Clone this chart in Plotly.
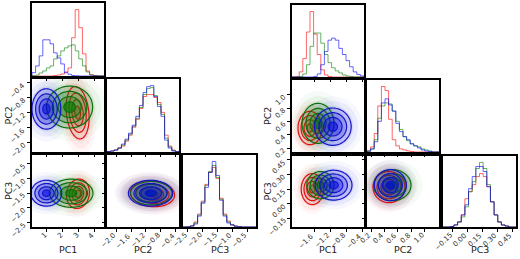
import numpy as np
import plotly.graph_objects as go

# ---------------- data ----------------
series = ["red", "green", "blue"]
param_names = ["PC1", "PC2", "PC3"]

# left corner plot
left_ranges = [[0.1, 4.6], [-2.25, -0.3], [-2.65, -0.2]]
left_ticks = [[1, 2, 3, 4], [-2.0, -1.6, -1.2, -0.8, -0.4], [-2.5, -2.0, -1.5, -1.0, -0.5]]
left_ticktext = [["1", "2", "3", "4"],
                 ["−2.0", "−1.6", "−1.2", "−0.8", "−0.4"],
                 ["−2.5", "−2.0", "−1.5", "−1.0", "−0.5"]]

left_pc1_hist_red = [0, 0, 0, 0, 0, 0, 0.5, 1, 2, 4, 8, 38, 66, 48, 22, 5, 1.5, 0.5, 0, 0]
left_pc1_hist_green = [0.3, 1, 3, 5, 8, 10, 17, 20, 25, 28, 30, 31, 25, 17, 10, 4, 1, 0.3, 0, 0]
left_pc1_hist_blue = [3.3, 10, 20, 36, 36, 32, 23, 18, 12, 3.3, 1.7, 0.5, 0.3, 0, 0, 0, 0, 0, 0, 0]

left_pc2_hist_red = [0.4, 1, 2, 4, 6, 11, 17, 25, 33, 44, 56, 58, 58, 55, 50, 40, 17, 6, 2, 0.5]
left_pc2_hist_green = [0.5, 1, 2, 4, 7, 12, 18, 26, 34, 45, 58, 64, 65, 57, 48, 38, 14, 5, 1.5, 0.3]
left_pc2_hist_blue = [0.5, 1, 2, 4, 8, 13, 19, 27, 36, 47, 60, 66, 67, 56, 46, 36, 12, 4, 1, 0.3]

left_pc3_hist_red = [0, 0.2, 1.2, 5, 13, 26, 43, 55, 60, 49, 29, 13, 6, 2.5, 1, 0.3, 0, 0, 0, 0]
left_pc3_hist_green = [0, 0.2, 1, 4, 12, 25, 42, 56, 62, 50, 28, 12, 5, 2, 0.8, 0.3, 0, 0, 0, 0]
left_pc3_hist_blue = [0, 0.2, 1, 3, 11, 24, 40, 55, 66, 52, 27, 11, 4, 2, 0.8, 0.3, 0, 0, 0, 0]

# 2-D density summaries: [mean_x, mean_y, sigma_x, sigma_y, correlation]
left_pc1_pc2_red = [2.95, -1.2, 0.36, 0.35, -0.2]
left_pc1_pc2_green = [2.45, -1.05, 0.72, 0.28, 0.0]
left_pc1_pc2_blue = [1.0, -1.1, 0.45, 0.27, 0.0]
left_pc1_pc3_red = [2.97, -1.52, 0.36, 0.25, 0.1]
left_pc1_pc3_green = [2.55, -1.5, 0.68, 0.24, 0.0]
left_pc1_pc3_blue = [1.0, -1.5, 0.48, 0.22, 0.0]
left_pc2_pc3_red = [-1.02, -1.52, 0.3, 0.22, -0.1]
left_pc2_pc3_green = [-1.05, -1.5, 0.28, 0.2, 0.0]
left_pc2_pc3_blue = [-1.07, -1.5, 0.3, 0.22, 0.0]

# right corner plot
right_ranges = [[-2.15, -0.35], [0.14, 1.22], [-0.24, 0.49]]
right_ticks = [[-1.6, -1.2, -0.8, -0.4], [0.2, 0.4, 0.6, 0.8, 1.0], [-0.15, 0.0, 0.15, 0.30, 0.45]]
right_ticktext = [["−1.6", "−1.2", "−0.8", "−0.4"],
                  ["0.2", "0.4", "0.6", "0.8", "1.0"],
                  ["−0.15", "0.00", "0.15", "0.30", "0.45"]]

right_pc1_hist_red = [0, 0.3, 5, 18, 44, 64, 42, 22, 7, 2, 0.5, 0, 0, 0, 0, 0, 0, 0, 0, 0]
right_pc1_hist_green = [0, 0, 0.5, 3, 12, 30, 43, 43, 33, 22, 14, 9, 6, 4, 2, 1, 0.5, 0, 0, 0]
right_pc1_hist_blue = [0, 0, 0, 0, 0, 0, 0.5, 3, 12, 25, 36, 38, 36, 28, 22, 16, 10, 5, 2.5, 1]

right_pc2_hist_red = [1, 5, 18, 45, 64, 60, 32, 12, 6, 3, 2, 1, 0.5, 0, 0, 0, 0, 0, 0, 0]
right_pc2_hist_green = [0.5, 3, 12, 33, 45, 48, 47, 40, 30, 22, 15, 11, 8, 6, 5, 3, 2, 1, 0, 0]
right_pc2_hist_blue = [1, 3, 10, 30, 48, 52, 46, 40, 28, 20, 15, 12, 8, 6, 4, 2, 1, 0.5, 0, 0]

right_pc3_hist_red = [0, 0, 0.5, 2, 5, 12, 28, 35, 42, 50, 53, 50, 40, 25, 12, 5, 2, 0.8, 0, 0]
right_pc3_hist_green = [0, 0, 0.5, 2, 5, 10, 20, 35, 45, 58, 64, 58, 42, 25, 12, 5, 2, 1, 0, 0]
right_pc3_hist_blue = [0, 0, 0.5, 2, 5, 12, 22, 38, 50, 60, 60, 55, 40, 25, 12, 5, 2, 1, 0, 0]

right_pc1_pc2_red = [-1.7, 0.5, 0.15, 0.125, 0.0]
right_pc1_pc2_green = [-1.5, 0.57, 0.2, 0.15, 0.0]
right_pc1_pc2_blue = [-1.13, 0.52, 0.23, 0.14, 0.0]
right_pc1_pc3_red = [-1.64, 0.15, 0.14, 0.08, 0.0]
right_pc1_pc3_green = [-1.44, 0.19, 0.17, 0.07, 0.0]
right_pc1_pc3_blue = [-1.11, 0.19, 0.23, 0.077, 0.0]
right_pc2_pc3_red = [0.47, 0.17, 0.12, 0.08, 0.0]
right_pc2_pc3_green = [0.52, 0.19, 0.14, 0.08, 0.0]
right_pc2_pc3_blue = [0.49, 0.19, 0.12, 0.08, 0.0]

# ---------------- assembly ----------------
W, H = 520, 259
FONT = "DejaVu Sans"
hist_color = {"red": "rgba(255,0,0,0.6)", "green": "rgba(0,128,0,0.6)", "blue": "rgba(0,0,255,0.6)"}
line_color = {"red": "#e01010", "green": "#0b700b", "blue": "#1414c8"}
rgb = {"red": (255, 0, 0), "green": (0, 128, 0), "blue": (0, 0, 235)}
# alpha from outside (beyond 2 sigma) to the core
fill_alpha = {"red": [0.0, 0.04, 0.06, 0.09, 0.18],
              "green": [0.0, 0.14, 0.2, 0.28, 0.65],
              "blue": [0.0, 0.13, 0.2, 0.28, 0.5]}

corners = [
    dict(ranges=left_ranges, ticks=left_ticks, ticktext=left_ticktext,
         hists=[[left_pc1_hist_red, left_pc1_hist_green, left_pc1_hist_blue],
                [left_pc2_hist_red, left_pc2_hist_green, left_pc2_hist_blue],
                [left_pc3_hist_red, left_pc3_hist_green, left_pc3_hist_blue]],
         pairs={(1, 0): [left_pc1_pc2_red, left_pc1_pc2_green, left_pc1_pc2_blue],
                (2, 0): [left_pc1_pc3_red, left_pc1_pc3_green, left_pc1_pc3_blue],
                (2, 1): [left_pc2_pc3_red, left_pc2_pc3_green, left_pc2_pc3_blue]},
         cols=[(32, 104), (107, 179), (183, 256)], rows=[(3, 76), (79, 152), (155, 227)],
         ytitle_x=8),
    dict(ranges=right_ranges, ticks=right_ticks, ticktext=right_ticktext,
         hists=[[right_pc1_hist_red, right_pc1_hist_green, right_pc1_hist_blue],
                [right_pc2_hist_red, right_pc2_hist_green, right_pc2_hist_blue],
                [right_pc3_hist_red, right_pc3_hist_green, right_pc3_hist_blue]],
         pairs={(1, 0): [right_pc1_pc2_red, right_pc1_pc2_green, right_pc1_pc2_blue],
                (2, 0): [right_pc1_pc3_red, right_pc1_pc3_green, right_pc1_pc3_blue],
                (2, 1): [right_pc2_pc3_red, right_pc2_pc3_green, right_pc2_pc3_blue]},
         cols=[(292, 364), (367, 439), (443, 516)], rows=[(5, 77), (80, 152), (156, 227)],
         ytitle_x=267),
]


def step_cs(alphas, c):
    r, g, b = c
    cols = [f"rgba({r},{g},{b},{a})" for a in alphas]
    br = [0.0, 0.125, 0.375, 0.625, 0.875, 1.0]
    cs = []
    for k in range(5):
        cs.append([br[k], cols[k]])
        cs.append([br[k + 1], cols[k]])
    return cs


def neg_dist(p, xr, yr, n=70):
    mx, my, sx, sy, rho = p
    gx = np.linspace(xr[0], xr[1], n)
    gy = np.linspace(yr[0], yr[1], n)
    X, Y = np.meshgrid(gx, gy)
    u = (X - mx) / sx
    v = (Y - my) / sy
    d2 = (u * u - 2 * rho * u * v + v * v) / (1 - rho ** 2)
    return gx, gy, -np.sqrt(d2)


fig = go.Figure()
layout = {}
annotations = []
tickfont = dict(size=7, color="#333", family=FONT)
axn = 0
for c in corners:
    for i in range(3):
        for j in range(i + 1):
            axn += 1
            xa = "x" if axn == 1 else f"x{axn}"
            ya = "y" if axn == 1 else f"y{axn}"
            xk = "xaxis" if axn == 1 else f"xaxis{axn}"
            yk = "yaxis" if axn == 1 else f"yaxis{axn}"
            x0, x1 = c["cols"][j]
            y0, y1 = c["rows"][i]
            xr = c["ranges"][j]
            common = dict(showline=True, mirror=True, linecolor="black", linewidth=1.5,
                          showgrid=False, zeroline=False, ticks="outside", ticklen=3,
                          tickwidth=1, tickcolor="black", showticklabels=False,
                          automargin=False)
            layout[xk] = dict(common, domain=[x0 / W, x1 / W], range=xr, anchor=ya,
                              tickvals=c["ticks"][j])
            if i == 2:
                for tv, tt in zip(c["ticks"][j], c["ticktext"][j]):
                    annotations.append(dict(text=tt, x=tv, xref=xa, y=1 - (y1 + 3) / H, yref="paper",
                                            xanchor="right", yanchor="top", textangle=-45,
                                            showarrow=False, font=tickfont, xshift=3, borderpad=0))
            if i == j:
                hs = c["hists"][j]
                ymax = 1.1 * max(max(h) for h in hs)
                layout[yk] = dict(common, domain=[1 - y1 / H, 1 - y0 / H], range=[0, ymax],
                                  anchor=xa, ticks="")
                for s, h in zip(series, hs):
                    edges = np.linspace(xr[0], xr[1], len(h) + 1)
                    xs = [edges[0]] + list(edges[:-1]) + [edges[-1]]
                    ys = [0] + list(h) + [0]
                    fig.add_trace(go.Scatter(x=xs, y=ys, mode="lines",
                                             line=dict(color=hist_color[s], width=1, shape="hv"),
                                             xaxis=xa, yaxis=ya, hoverinfo="skip", showlegend=False))
            else:
                yr = c["ranges"][i]
                layout[yk] = dict(common, domain=[1 - y1 / H, 1 - y0 / H], range=yr, anchor=xa,
                                  tickvals=c["ticks"][i])
                if j == 0:
                    for tv, tt in zip(c["ticks"][i], c["ticktext"][i]):
                        annotations.append(dict(text=tt, y=tv, yref=ya, x=(x0 - 3) / W, xref="paper",
                                                xanchor="right", yanchor="top", textangle=-45,
                                                showarrow=False, font=tickfont, yshift=3, borderpad=0))
                ps = c["pairs"][(i, j)]
                # faint haze of samples beyond the contours
                for s, p in zip(series, ps):
                    gx, gy, z = neg_dist(p, xr, yr)
                    r, g, b = rgb[s]
                    fig.add_trace(go.Contour(
                        x=gx, y=gy, z=z, autocontour=False,
                        contours=dict(start=-3.25, end=-2.25, size=0.5, coloring="fill"),
                        line=dict(width=0), zauto=False, zmin=-3.5, zmax=-2.0,
                        colorscale=[[0, f"rgba({r},{g},{b},0)"], [0.25, f"rgba({r},{g},{b},0)"],
                                    [0.25, f"rgba({r},{g},{b},0.03)"], [0.5, f"rgba({r},{g},{b},0.03)"],
                                    [0.5, f"rgba({r},{g},{b},0.05)"], [0.75, f"rgba({r},{g},{b},0.05)"],
                                    [0.75, f"rgba({r},{g},{b},0.07)"], [1, f"rgba({r},{g},{b},0.07)"]],
                        showscale=False, hoverinfo="skip", xaxis=xa, yaxis=ya))
                for s, p in zip(series, ps):
                    gx, gy, z = neg_dist(p, xr, yr)
                    fig.add_trace(go.Contour(
                        x=gx, y=gy, z=z, autocontour=False,
                        contours=dict(start=-2.0, end=-0.5, size=0.5, coloring="fill"),
                        line=dict(color=line_color[s], width=1.2), zauto=False, zmin=-2.25, zmax=-0.25,
                        colorscale=step_cs(fill_alpha[s], rgb[s]),
                        showscale=False, hoverinfo="skip", xaxis=xa, yaxis=ya))
            if i == 2:
                annotations.append(dict(text=param_names[j], x=(x0 + x1) / 2 / W, y=1 - 249 / H,
                                        xref="paper", yref="paper", showarrow=False,
                                        font=dict(size=9.5, color="#222", family=FONT),
                                        xanchor="center", yanchor="middle"))
            if j == 0 and i > 0:
                annotations.append(dict(text=param_names[i], x=c["ytitle_x"] / W, y=1 - (y0 + y1) / 2 / H,
                                        xref="paper", yref="paper", showarrow=False, textangle=-90,
                                        font=dict(size=9.5, color="#222", family=FONT),
                                        xanchor="center", yanchor="middle"))

fig.update_layout(template="none", width=W, height=H, margin=dict(l=0, r=0, t=0, b=0, pad=0),
                  paper_bgcolor="white", plot_bgcolor="white", showlegend=False,
                  annotations=annotations, **layout)
fig.write_html("out.html", config={"displayModeBar": False},
               post_script="document.body.style.margin='0';document.body.style.padding='0';"
                           "document.body.style.overflow='hidden';")
